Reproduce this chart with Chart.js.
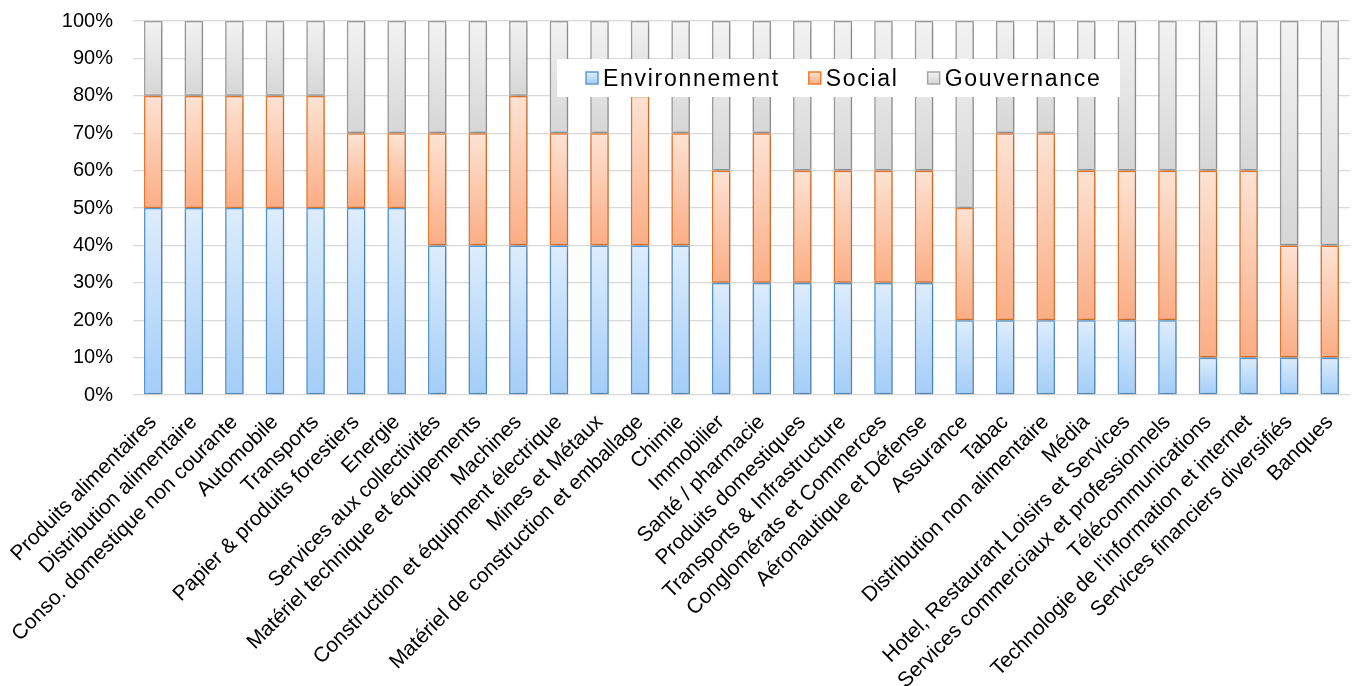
<!DOCTYPE html>
<html lang="fr">
<head>
<meta charset="utf-8">
<title>Répartition Environnement / Social / Gouvernance par secteur</title>
<script src="https://cdn.jsdelivr.net/npm/chart.js@4.4.1/dist/chart.umd.min.js"></script>
<style>
  html, body { margin: 0; padding: 0; background: #fff; }
  #wrap { position: relative; width: 1358px; height: 686px; }
</style>
</head>
<body>
<div id="wrap"><canvas id="chart"></canvas></div>
<script>
// Secteurs (axe des abscisses)
const categories = [
  "Produits alimentaires",
  "Distribution alimentaire",
  "Conso. domestique non courante",
  "Automobile",
  "Transports",
  "Papier & produits forestiers",
  "Energie",
  "Services aux collectivités",
  "Matériel technique et équipements",
  "Machines",
  "Construction et équipment électrique",
  "Mines et Métaux",
  "Matériel de construction et emballage",
  "Chimie",
  "Immobilier",
  "Santé / pharmacie",
  "Produits domestiques",
  "Transports & Infrastructure",
  "Conglomérats et Commerces",
  "Aéronautique et Défense",
  "Assurance",
  "Tabac",
  "Distribution non alimentaire",
  "Média",
  "Hotel, Restaurant Loisirs et Services",
  "Services commerciaux et professionnels",
  "Télécommunications",
  "Technologie de l'information et internet",
  "Services financiers diversifiés",
  "Banques"
];

// Pondérations (en %) par pilier
const environnement = [50, 50, 50, 50, 50, 50, 50, 40, 40, 40, 40, 40, 40, 40, 30, 30, 30, 30, 30, 30, 20, 20, 20, 20, 20, 20, 10, 10, 10, 10];
const social        = [30, 30, 30, 30, 30, 20, 20, 30, 30, 40, 30, 30, 40, 30, 30, 40, 30, 30, 30, 30, 30, 50, 50, 40, 40, 40, 50, 50, 30, 30];
const gouvernance   = [20, 20, 20, 20, 20, 30, 30, 30, 30, 20, 30, 30, 20, 30, 40, 30, 40, 40, 40, 40, 50, 30, 30, 40, 40, 40, 40, 40, 60, 60];

// Graduations de l'axe vertical
const yTicks = [0, 10, 20, 30, 40, 50, 60, 70, 80, 90, 100];

const seriesNames = ["Environnement", "Social", "Gouvernance"];
const seriesValues = [environnement, social, gouvernance];

// Dégradés clair (haut) -> foncé (bas) et couleurs de contour
const palette = [
  { top: "#deedfd", bottom: "#a3cdf8", border: "#5b9bd5" },
  { top: "#fde3d4", bottom: "#fbad84", border: "#ed7d31" },
  { top: "#f3f3f3", bottom: "#d6d6d6", border: "#a5a5a5" }
];

const FONT = "'Liberation Sans', Arial, sans-serif";

function segmentFill(ctx) {
  const s = ctx.datasetIndex;
  const pal = palette[s];
  const chart = ctx.chart;
  if (ctx.dataIndex === undefined || !chart.chartArea || !chart.scales.y) return pal.bottom;
  const i = ctx.dataIndex;
  let base = 0;
  for (let k = 0; k < s; k++) base += seriesValues[k][i];
  const yScale = chart.scales.y;
  const yTop = yScale.getPixelForValue(base + seriesValues[s][i]);
  const yBot = yScale.getPixelForValue(base);
  if (!isFinite(yTop) || !isFinite(yBot) || yTop === yBot) return pal.bottom;
  const g = chart.ctx.createLinearGradient(0, yTop, 0, yBot);
  g.addColorStop(0, pal.top);
  g.addColorStop(1, pal.bottom);
  return g;
}

// Ombre douce sous les barres
const barShadow = {
  id: "barShadow",
  beforeDatasetsDraw(chart) {
    const c = chart.ctx;
    c.save();
    c.shadowColor = "rgba(0,0,0,0.28)";
    c.shadowBlur = 5;
    c.shadowOffsetX = 1;
    c.shadowOffsetY = 1;
  },
  afterDatasetsDraw(chart) {
    chart.ctx.restore();
  }
};

// Légende en encadré blanc, dans la zone de tracé
const boxLegend = {
  id: "boxLegend",
  afterDraw(chart) {
    const c = chart.ctx;
    const box = { x: 557, y: 59, w: 563, h: 38 };
    c.save();
    c.fillStyle = "#ffffff";
    c.fillRect(box.x, box.y, box.w, box.h);
    c.font = "23px " + FONT;
    c.letterSpacing = "1.7px";
    c.textBaseline = "middle";
    c.textAlign = "left";
    const cy = box.y + box.h / 2;
    let x = 586;
    seriesNames.forEach((name, k) => {
      const pal = palette[k];
      const m = 12;
      const g = c.createLinearGradient(0, cy - m / 2, 0, cy + m / 2);
      g.addColorStop(0, pal.top);
      g.addColorStop(1, pal.bottom);
      c.fillStyle = g;
      c.fillRect(x, cy - m / 2, m, m);
      c.strokeStyle = pal.border;
      c.lineWidth = 1.5;
      c.strokeRect(x, cy - m / 2, m, m);
      c.fillStyle = "#000";
      c.fillText(name, x + m + 5, cy + 2);
      x += m + 5 + c.measureText(name).width + 29;
    });
    c.restore();
  }
};

new Chart(document.getElementById("chart"), {
  type: "bar",
  data: {
    labels: categories,
    datasets: seriesNames.map((name, k) => ({
      label: name,
      data: seriesValues[k],
      backgroundColor: segmentFill,
      borderColor: palette[k].border,
      borderWidth: 1.6,
      borderSkipped: false,
      barPercentage: 0.46,
      categoryPercentage: 1
    }))
  },
  options: {
    responsive: true,
    maintainAspectRatio: false,
    animation: false,
    layout: { padding: { top: 21, right: 8, left: 0, bottom: 0 } },
    plugins: {
      legend: { display: false },
      tooltip: { enabled: false }
    },
    scales: {
      x: {
        stacked: true,
        grid: { display: false, drawTicks: false },
        border: { display: false },
        ticks: {
          autoSkip: false,
          minRotation: 45,
          maxRotation: 45,
          padding: 15,
          color: "#000",
          font: { family: FONT, size: 21 }
        },
        afterFit(scale) {
          scale.height = 291;
          scale.paddingTop = 0;
          scale.paddingBottom = 0;
          scale.paddingLeft = 0;
          scale.paddingRight = 0;
        }
      },
      y: {
        stacked: true,
        min: 0,
        max: 100,
        afterBuildTicks(scale) { scale.ticks = yTicks.map(v => ({ value: v })); },
        grid: { color: "#d9d9d9", lineWidth: 1.3, drawTicks: false },
        border: { display: false },
        ticks: {
          padding: 20,
          color: "#000",
          font: { family: FONT, size: 20 },
          callback: v => v + "%"
        },
        afterFit(scale) {
          scale.width = 133;
          scale.paddingTop = 0;
          scale.paddingBottom = 0;
        }
      }
    }
  },
  plugins: [barShadow, boxLegend]
});
</script>
</body>
</html>
